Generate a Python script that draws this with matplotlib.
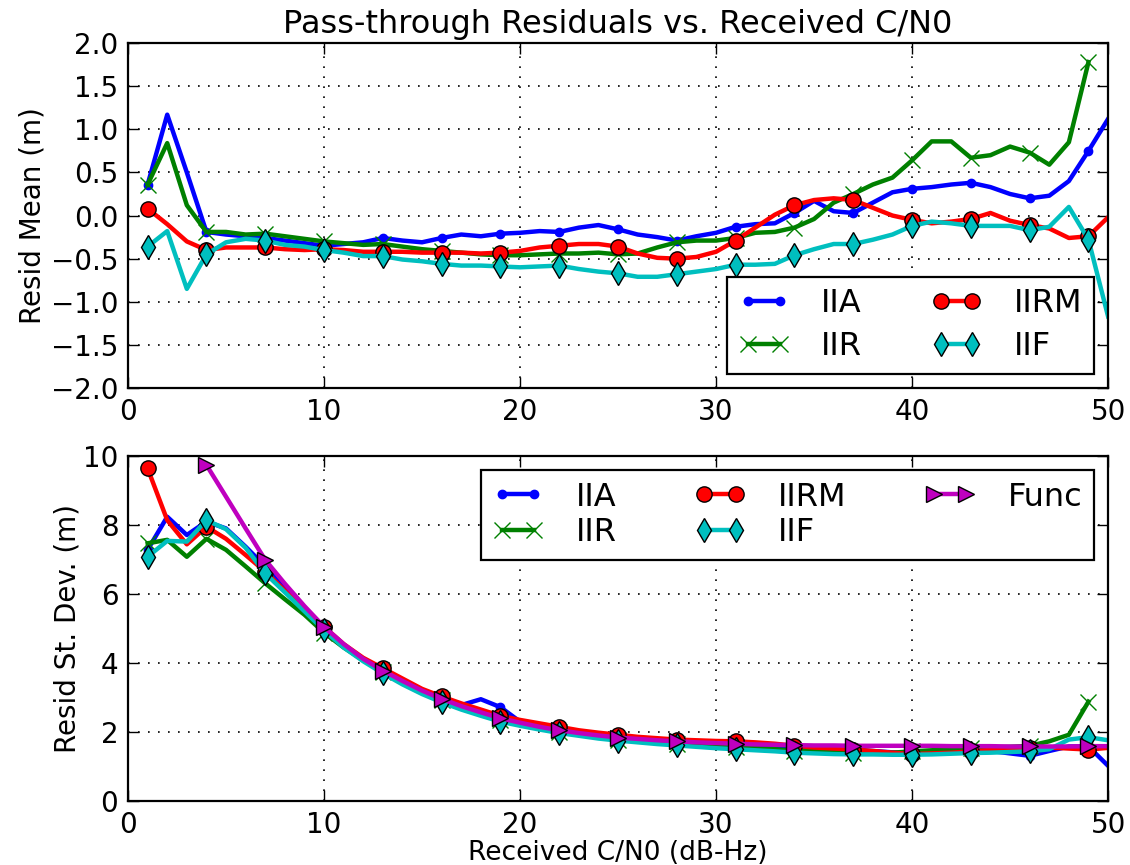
import numpy as np
import matplotlib
matplotlib.use("Agg")
import matplotlib.pyplot as plt

# ---------------- data ----------------
cn0 = list(range(1, 51))
cn0_iir = list(range(1, 50))
cn0_func = list(range(4, 51))

mean_iia = [0.36, 1.17, 0.50, -0.19, -0.22, -0.24, -0.26, -0.29, -0.32, -0.35,
            -0.33, -0.31, -0.26, -0.29, -0.31, -0.26, -0.22, -0.24, -0.21, -0.20,
            -0.18, -0.19, -0.14, -0.11, -0.16, -0.22, -0.25, -0.29, -0.24, -0.20,
            -0.13, -0.10, -0.09, 0.03, 0.17, 0.05, 0.03, 0.15, 0.27, 0.31,
            0.33, 0.36, 0.38, 0.33, 0.25, 0.20, 0.23, 0.40, 0.75, 1.12]
mean_iir = [0.36, 0.84, 0.12, -0.19, -0.19, -0.22, -0.21, -0.24, -0.27, -0.30,
            -0.32, -0.34, -0.33, -0.36, -0.39, -0.41, -0.43, -0.45, -0.46, -0.46,
            -0.45, -0.44, -0.44, -0.43, -0.45, -0.44, -0.37, -0.31, -0.29, -0.29,
            -0.26, -0.20, -0.19, -0.14, -0.04, 0.15, 0.25, 0.36, 0.44, 0.64,
            0.86, 0.86, 0.67, 0.70, 0.80, 0.73, 0.59, 0.85, 1.78]
mean_iirm = [0.08, -0.10, -0.30, -0.40, -0.37, -0.37, -0.37, -0.39, -0.40, -0.39,
             -0.40, -0.42, -0.42, -0.42, -0.43, -0.43, -0.43, -0.44, -0.43, -0.41,
             -0.37, -0.35, -0.33, -0.33, -0.36, -0.44, -0.49, -0.50, -0.48, -0.42,
             -0.29, -0.14, 0.01, 0.12, 0.18, 0.20, 0.18, 0.09, 0.00, -0.05,
             -0.09, -0.07, -0.04, 0.03, -0.06, -0.11, -0.15, -0.26, -0.24, -0.02]
mean_iif = [-0.36, -0.18, -0.85, -0.45, -0.31, -0.27, -0.29, -0.34, -0.36, -0.40,
            -0.43, -0.47, -0.47, -0.51, -0.53, -0.56, -0.58, -0.58, -0.59, -0.60,
            -0.59, -0.58, -0.62, -0.65, -0.67, -0.71, -0.71, -0.68, -0.65, -0.62,
            -0.57, -0.57, -0.56, -0.46, -0.39, -0.33, -0.33, -0.28, -0.22, -0.12,
            -0.07, -0.09, -0.12, -0.12, -0.12, -0.17, -0.13, 0.10, -0.28, -1.17]

std_iia = [7.28, 8.24, 7.71, 8.10, 7.90, 7.37, 6.80, 6.20, 5.60, 5.00,
           4.50, 4.10, 3.78, 3.45, 3.15, 2.90, 2.78, 2.95, 2.72, 2.30,
           2.15, 2.05, 1.95, 1.88, 1.82, 1.76, 1.72, 1.68, 1.65, 1.63,
           1.60, 1.58, 1.56, 1.54, 1.52, 1.50, 1.49, 1.45, 1.41, 1.39,
           1.42, 1.46, 1.49, 1.45, 1.38, 1.31, 1.45, 1.58, 1.58, 1.02]
std_iir = [7.47, 7.57, 7.08, 7.60, 7.28, 6.80, 6.31, 5.85, 5.40, 4.88,
           4.45, 4.08, 3.75, 3.45, 3.18, 2.92, 2.70, 2.52, 2.36, 2.22,
           2.10, 2.00, 1.92, 1.85, 1.78, 1.73, 1.69, 1.65, 1.62, 1.59,
           1.56, 1.53, 1.50, 1.46, 1.44, 1.42, 1.40, 1.38, 1.40, 1.44,
           1.47, 1.50, 1.53, 1.55, 1.57, 1.60, 1.73, 1.92, 2.88]
std_iirm = [9.64, 8.14, 7.44, 7.95, 7.60, 7.13, 6.65, 6.10, 5.55, 5.05,
            4.55, 4.15, 3.85, 3.55, 3.25, 3.03, 2.83, 2.65, 2.47, 2.35,
            2.25, 2.15, 2.05, 1.98, 1.92, 1.86, 1.82, 1.78, 1.76, 1.74,
            1.73, 1.70, 1.66, 1.60, 1.55, 1.52, 1.49, 1.45, 1.40, 1.36,
            1.38, 1.40, 1.44, 1.48, 1.52, 1.54, 1.55, 1.52, 1.49, 1.54]
std_iif = [7.08, 7.54, 7.52, 8.14, 7.88, 7.34, 6.60, 6.05, 5.50, 4.95,
           4.45, 4.05, 3.70, 3.38, 3.10, 2.86, 2.65, 2.47, 2.30, 2.18,
           2.07, 1.97, 1.89, 1.81, 1.75, 1.70, 1.65, 1.61, 1.57, 1.53,
           1.50, 1.47, 1.44, 1.40, 1.38, 1.36, 1.35, 1.35, 1.34, 1.34,
           1.35, 1.37, 1.39, 1.40, 1.42, 1.44, 1.50, 1.78, 1.85, 1.76]
std_func = [9.74, 8.82, 7.90, 6.99, 6.30, 5.65, 5.05, 4.55, 4.12, 3.78,
            3.48, 3.20, 2.96, 2.75, 2.57, 2.40, 2.27, 2.15, 2.05, 1.97,
            1.90, 1.84, 1.80, 1.76, 1.73, 1.70, 1.68, 1.66, 1.64, 1.63,
            1.62, 1.61, 1.61, 1.60, 1.60, 1.60, 1.60, 1.60, 1.59, 1.59,
            1.59, 1.58, 1.58, 1.58, 1.58, 1.59, 1.59]

mean_ticks = [-2.0, -1.5, -1.0, -0.5, 0.0, 0.5, 1.0, 1.5, 2.0]
std_ticks = [0, 2, 4, 6, 8, 10]
x_ticks = [0, 10, 20, 30, 40, 50]

# ---------------- figure ----------------
plt.rcParams['font.family'] = ['DejaVu Sans']
fig = plt.figure(figsize=(11.3, 8.65), dpi=100)
fig.patch.set_facecolor('white')

ax1 = fig.add_axes([0.1133, 0.5514, 0.8673, 0.3988])
ax2 = fig.add_axes([0.1133, 0.0740, 0.8673, 0.3988])

LW = 3.2
mev = slice(0, None, 3)
CYAN = (0, 0.75, 0.75)
MAG = (0.75, 0, 0.75)

def style_axes(ax):
    ax.grid(True, color='black', linestyle=(0, (1, 5)), linewidth=1.2)
    ax.tick_params(direction='in', top=True, right=True, length=8, width=1,
                   labelsize=20, pad=7)
    for s in ax.spines.values():
        s.set_linewidth(1.6)
    ax.set_xlim(0, 50)
    ax.set_xticks(x_ticks)

leg_kw = dict(numpoints=2, fontsize=23, fancybox=False, framealpha=1,
              edgecolor='black', borderaxespad=0.45, handlelength=1.6,
              handletextpad=1.0, borderpad=0.35)

# top panel
ax1.plot(cn0, mean_iia, color='b', lw=LW, marker='.', ms=12, markevery=mev, label='IIA')
ax1.plot(cn0_iir, mean_iir, color='g', lw=LW, marker='x', ms=12, mew=1.0,
         markevery=mev, label='IIR')
ax1.plot(cn0, mean_iirm, color='r', lw=LW, marker='o', ms=11, mec='k', mew=1.0,
         markevery=mev, label='IIRM')
ax1.plot(cn0, mean_iif, color=CYAN, lw=LW, marker='d', ms=12, mec='k',
         mew=1.0, markevery=mev, label='IIF')
style_axes(ax1)
ax1.set_ylim(-2.0, 2.0)
ax1.set_yticks(mean_ticks)
ax1.set_yticklabels([f"{t:.1f}".replace('-', '\u2212') for t in mean_ticks])
ax1.set_ylabel('Resid Mean (m)', fontsize=20, labelpad=3)
ax1.set_title('Pass-through Residuals vs. Received C/N0', fontsize=23, pad=7)
leg1 = ax1.legend(loc='lower right', ncol=2, columnspacing=2.15,
                  labelspacing=0.4, **leg_kw)
leg1.get_frame().set_linewidth(1.6)

# bottom panel
ax2.plot(cn0, std_iia, color='b', lw=LW, marker='.', ms=12, markevery=mev, label='IIA')
ax2.plot(cn0_iir, std_iir, color='g', lw=LW, marker='x', ms=12, mew=1.0,
         markevery=mev, label='IIR')
ax2.plot(cn0, std_iirm, color='r', lw=LW, marker='o', ms=11, mec='k', mew=1.0,
         markevery=mev, label='IIRM')
ax2.plot(cn0, std_iif, color=CYAN, lw=LW, marker='d', ms=12, mec='k',
         mew=1.0, markevery=mev, label='IIF')
ax2.plot(cn0_func, std_func, color=MAG, lw=LW, marker='>', ms=12, mec='k',
         mew=1.0, markevery=mev, label='Func')
style_axes(ax2)
ax2.set_ylim(0, 10)
ax2.set_yticks(std_ticks)
ax2.set_ylabel('Resid St. Dev. (m)', fontsize=20, labelpad=1)
ax2.set_xlabel('Received C/N0 (dB-Hz)', fontsize=19, labelpad=1)
leg2 = ax2.legend(loc='upper right', ncol=3, columnspacing=2.45,
                  labelspacing=0.15, **leg_kw)
leg2.get_frame().set_linewidth(1.6)

fig.savefig('out.png', dpi=100, facecolor='white')
